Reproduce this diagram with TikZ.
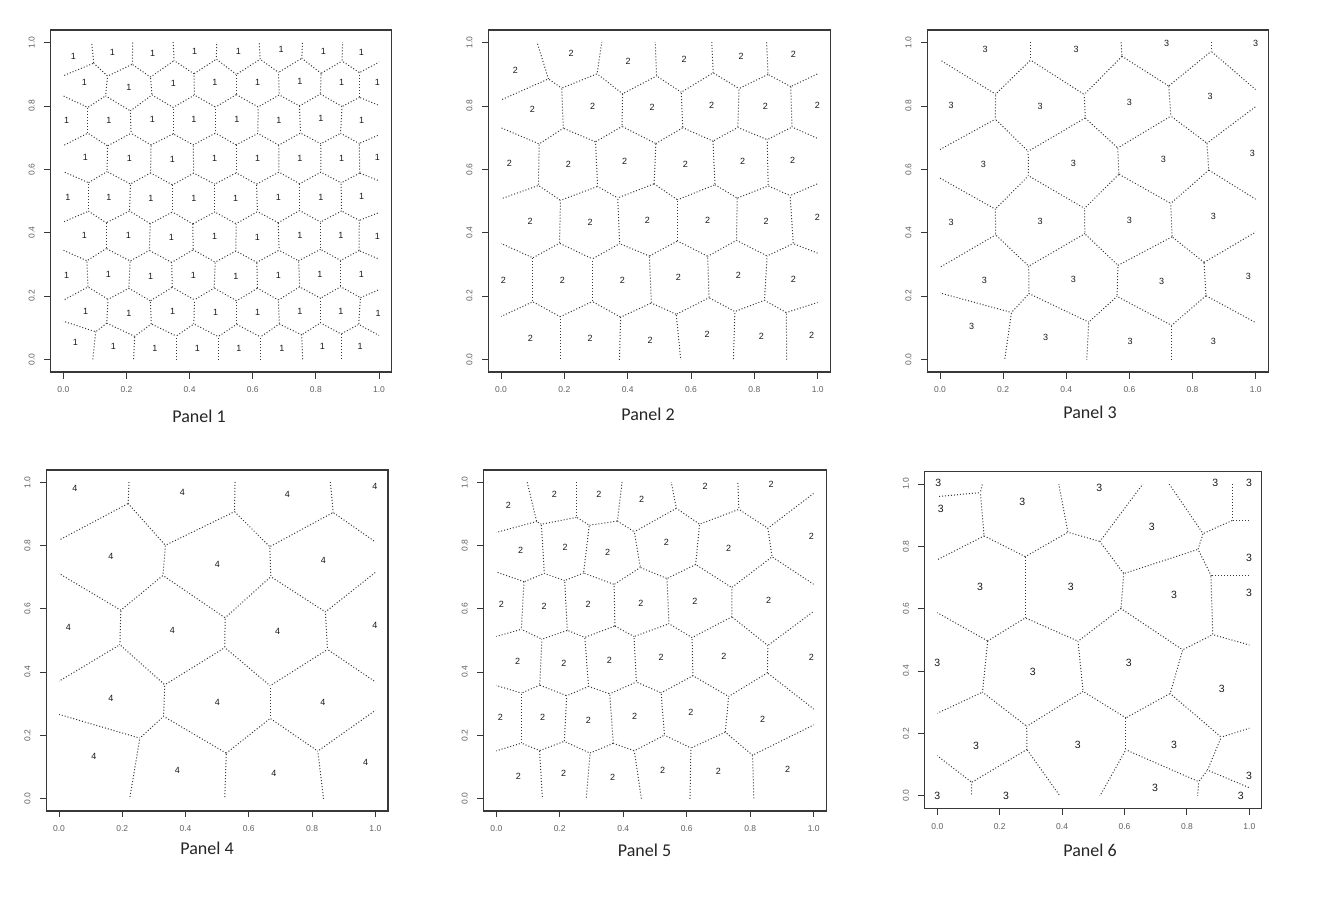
\documentclass[tikz,border=0pt]{standalone}
\usepackage{fontspec}
\setmainfont{Liberation Sans}
\newfontfamily\capfont{Carlito}
\tikzset{
  vedge/.style={draw=black!78, line width=1pt, dash pattern=on 1pt off 2pt},
  frame/.style={draw=black!78, line width=1.1pt},
  tickmark/.style={draw=black!78, line width=0.9pt},
  ticklab/.style={font=\fontsize{8.5}{9}\selectfont, text=black!62, inner sep=0pt},
  sitelab/.style={font=\fontsize{9}{10}\selectfont, text=black!90, inner sep=0pt},
  sitelabb/.style={font=\fontsize{10.5}{11}\selectfont, text=black!90, inner sep=0pt},
  caplab/.style={font=\capfont\fontsize{18}{20}\selectfont, text=black!85, inner sep=0pt},
}
% convert zoom-pixel readings to data coordinates
\newcommand\mksites[6]{%
  \gdef#1{}%
  \foreach \vvu/\vvv in {#2} {%
    \pgfmathsetmacro\vvx{(\vvu-#3)/#4}%
    \pgfmathsetmacro\vvy{(#5-\vvv)/#6}%
    \ifx#1\empty \xdef#1{\vvx/\vvy}\else \xdef#1{#1,\vvx/\vvy}\fi
  }%
}
% Voronoi edges: bisector of each near pair, clipped by half-planes of near sites
\newcommand\voronoi[3]{%
  \foreach \xa/\ya [count=\ia] in #1 {%
    \foreach \xb/\yb [count=\ib] in #1 {%
      \ifnum\ib>\ia\relax
        \pgfmathsetmacro\vvdd{(\xb-\xa)*(\xb-\xa)+(\yb-\ya)*(\yb-\ya)}%
        \ifdim\vvdd pt<#2pt\relax
          \pgfmathsetmacro\vvmx{(\xa+\xb)/2}%
          \pgfmathsetmacro\vvmy{(\ya+\yb)/2}%
          \pgfmathsetmacro\vvdl{sqrt(\vvdd)}%
          \pgfmathsetmacro\vvex{(\ya-\yb)/\vvdl*1.5}%
          \pgfmathsetmacro\vvey{(\xb-\xa)/\vvdl*1.5}%
          \begin{scope}
            \clip (0,0) rectangle (1,1);
            \foreach \xc/\yc [count=\ic] in #1 {%
              \ifnum\ic=\ia\relax\else\ifnum\ic=\ib\relax\else
                \pgfmathsetmacro\vvdq{(\xc-\vvmx)*(\xc-\vvmx)+(\yc-\vvmy)*(\yc-\vvmy)}%
                \ifdim\vvdq pt<#3pt\relax
                  \pgfmathsetmacro\vvhx{(\xa+\xc)/2}%
                  \pgfmathsetmacro\vvhy{(\ya+\yc)/2}%
                  \pgfmathsetmacro\vvnl{2/sqrt((\xa-\xc)*(\xa-\xc)+(\ya-\yc)*(\ya-\yc))}%
                  \pgfmathsetmacro\vvnx{(\xa-\xc)*\vvnl}%
                  \pgfmathsetmacro\vvny{(\ya-\yc)*\vvnl}%
                  \pgfmathsetmacro\vvpa{\vvhx-\vvny}%
                  \pgfmathsetmacro\vvpb{\vvhy+\vvnx}%
                  \pgfmathsetmacro\vvpc{\vvhx-\vvny+\vvnx}%
                  \pgfmathsetmacro\vvpd{\vvhy+\vvnx+\vvny}%
                  \pgfmathsetmacro\vvpe{\vvhx+\vvny+\vvnx}%
                  \pgfmathsetmacro\vvpf{\vvhy-\vvnx+\vvny}%
                  \pgfmathsetmacro\vvpg{\vvhx+\vvny}%
                  \pgfmathsetmacro\vvph{\vvhy-\vvnx}%
                  \clip (\vvpa,\vvpb) -- (\vvpc,\vvpd) -- (\vvpe,\vvpf) -- (\vvpg,\vvph) -- cycle;
                \fi
              \fi\fi
            }%
            \draw[vedge] (\vvmx+\vvex,\vvmy+\vvey) -- (\vvmx-\vvex,\vvmy-\vvey);
          \end{scope}
        \fi
      \fi
    }%
  }%
}
\newcommand\panelaxes[1]{%
  \draw[frame] (-0.04,-0.04) rectangle (1.04,1.04);
  \foreach \t/\s [count=\c] in {0/0.0,0.2/0.2,0.4/0.4,0.6/0.6,0.8/0.8,1/1.0} {
    \draw[tickmark] (\t,-0.04) -- ++(0pt,-6.5pt);
    \draw[tickmark] (-0.04,\t) -- ++(-6.5pt,0pt);
    \node[ticklab] (#1xt\c) at ([yshift=-18pt]\t,-0.04) {\s};
    \node[ticklab, rotate=90] (#1yt\c) at ([xshift=-19pt]-0.04,\t) {\s};
  }%
}
\begin{document}
\begin{tikzpicture}
\useasboundingbox (0pt,0pt) rectangle (1324pt,-897pt);
\fill[white] (0pt,0pt) rectangle (1324pt,-897pt);

\mksites\sitesA{160/108, 277/97, 398/100, 524/93, 655/95, 783/88, 910/93, 1024/97,
 193/188, 327/202, 460/190, 585/187, 713/187, 840/183, 965/187, 1072/187,
 140/302, 267/302, 397/298, 522/298, 651/298, 777/300, 903/295, 1025/302,
 196/413, 328/416, 457/418, 584/416, 713/416, 840/415, 965/414, 1072/412,
 144/532, 267/532, 393/536, 522/536, 647/536, 775/532, 903/532, 1025/530,
 193/647, 325/647, 454/652, 584/650, 712/651, 840/647, 963/647, 1072/648,
 140/767, 265/762, 392/768, 520/765, 648/770, 775/767, 900/762, 1024/762,
 197/873, 327/880, 458/875, 587/878, 713/878, 840/873, 963/873, 1074/880,
 166/968, 280/980, 405/985, 532/985, 657/985, 786/985, 907/980, 1020/980}{130}{947}{1018}{950}
\mksites\sitesB{166/152, 333/100, 504/125, 672/118, 843/110, 1000/103,
 217/267, 398/260, 576/263, 755/255, 916/260, 1072/255,
 148/430, 325/433, 494/425, 676/433, 848/425, 998/422,
 210/603, 390/607, 562/600, 743/600, 918/603, 1072/593,
 130/780, 307/780, 487/780, 655/773, 835/767, 1000/777,
 211/955, 390/955, 570/960, 741/943, 904/948, 1055/947}{123}{950}{1018}{950}
\mksites\sitesC{255/88, 528/88, 800/70, 1067/70,
 153/255, 420/258, 688/247, 930/230,
 250/433, 520/430, 790/418, 1057/400,
 153/607, 420/603, 688/600, 940/590,
 253/780, 520/777, 785/785, 1045/770,
 215/920, 437/952, 690/965, 940/965}{120}{947}{1018}{950}
\mksites\sitesD{165/85, 487/98, 802/103, 1065/80,
 273/288, 592/313, 910/302,
 145/502, 457/510, 773/513, 1065/497,
 273/715, 592/727, 909/727,
 222/888, 472/930, 762/940, 1037/907}{117}{949}{1015}{947}
\mksites\sitesE{145/135, 283/102, 417/102, 545/117, 735/80, 933/73,
 182/270, 315/262, 443/277, 619/248, 806/266, 1054/230,
 124/433, 252/440, 384/433, 543/430, 705/423, 926/422,
 173/603, 312/610, 448/600, 603/592, 792/588, 1054/592,
 121/773, 248/773, 385/780, 524/770, 693/757, 908/777,
 175/948, 311/940, 458/952, 608/930, 775/933, 983/927}{109}{952}{1015}{947}
\mksites\sitesF{115/70, 122/148, 367/127, 598/83, 946/70, 1047/70,
 755/200, 1047/293, 240/380, 512/380, 822/405, 1047/398,
 112/608, 398/637, 686/608, 965/688,
 228/857, 533/855, 822/855, 1047/948,
 112/1007, 318/1008, 765/985, 1022/1007}{112}{936}{1007}{935}

% Panel 1
\begin{scope}[shift={(63.33pt,-359.33pt)}, x=315.67pt, y=316.67pt]
  \voronoi{\sitesA}{0.04}{0.0576}
  \panelaxes{pa}
  \foreach \x/\y [count=\c] in \sitesA {\node[sitelab] (pas\c) at (\x,\y) {1};}
\end{scope}
% Panel 2
\begin{scope}[shift={(501pt,-359.33pt)}, x=316.67pt, y=316.67pt]
  \voronoi{\sitesB}{0.0729}{0.09}
  \panelaxes{pb}
  \foreach \x/\y [count=\c] in \sitesB {\node[sitelab] (pbs\c) at (\x,\y) {2};}
\end{scope}
% Panel 3
\begin{scope}[shift={(940pt,-359.33pt)}, x=315.67pt, y=316.67pt]
  \voronoi{\sitesC}{0.1444}{0.1764}
  \panelaxes{pc}
  \foreach \x/\y [count=\c] in \sitesC {\node[sitelab] (pcs\c) at (\x,\y) {3};}
\end{scope}
% Panel 4
\begin{scope}[shift={(59pt,-798.33pt)}, x=316.33pt, y=315.67pt]
  \voronoi{\sitesD}{0.1764}{0.25}
  \panelaxes{pd}
  \foreach \x/\y [count=\c] in \sitesD {\node[sitelab] (pds\c) at (\x,\y) {4};}
\end{scope}
% Panel 5
\begin{scope}[shift={(496.33pt,-798.33pt)}, x=317.33pt, y=315.67pt]
  \voronoi{\sitesE}{0.09}{0.13}
  \panelaxes{pe}
  \foreach \x/\y [count=\c] in \sitesE {\node[sitelab] (pes\c) at (\x,\y) {2};}
\end{scope}
% Panel 6
\begin{scope}[shift={(937.33pt,-795.67pt)}, x=312pt, y=311.67pt]
  \voronoi{\sitesF}{0.2025}{0.25}
  \panelaxes{pf}
  \foreach \x/\y [count=\c] in \sitesF {\node[sitelabb] (pfs\c) at (\x,\y) {3};}
\end{scope}

\node[caplab] (cap1) at (199pt,-416.5pt) {Panel 1};
\node[caplab] (cap2) at (648pt,-414pt) {Panel 2};
\node[caplab] (cap3) at (1090pt,-412pt) {Panel 3};
\node[caplab] (cap4) at (207pt,-848.5pt) {Panel 4};
\node[caplab] (cap5) at (644.5pt,-850pt) {Panel 5};
\node[caplab] (cap6) at (1090pt,-850.5pt) {Panel 6};
\end{tikzpicture}
\end{document}
